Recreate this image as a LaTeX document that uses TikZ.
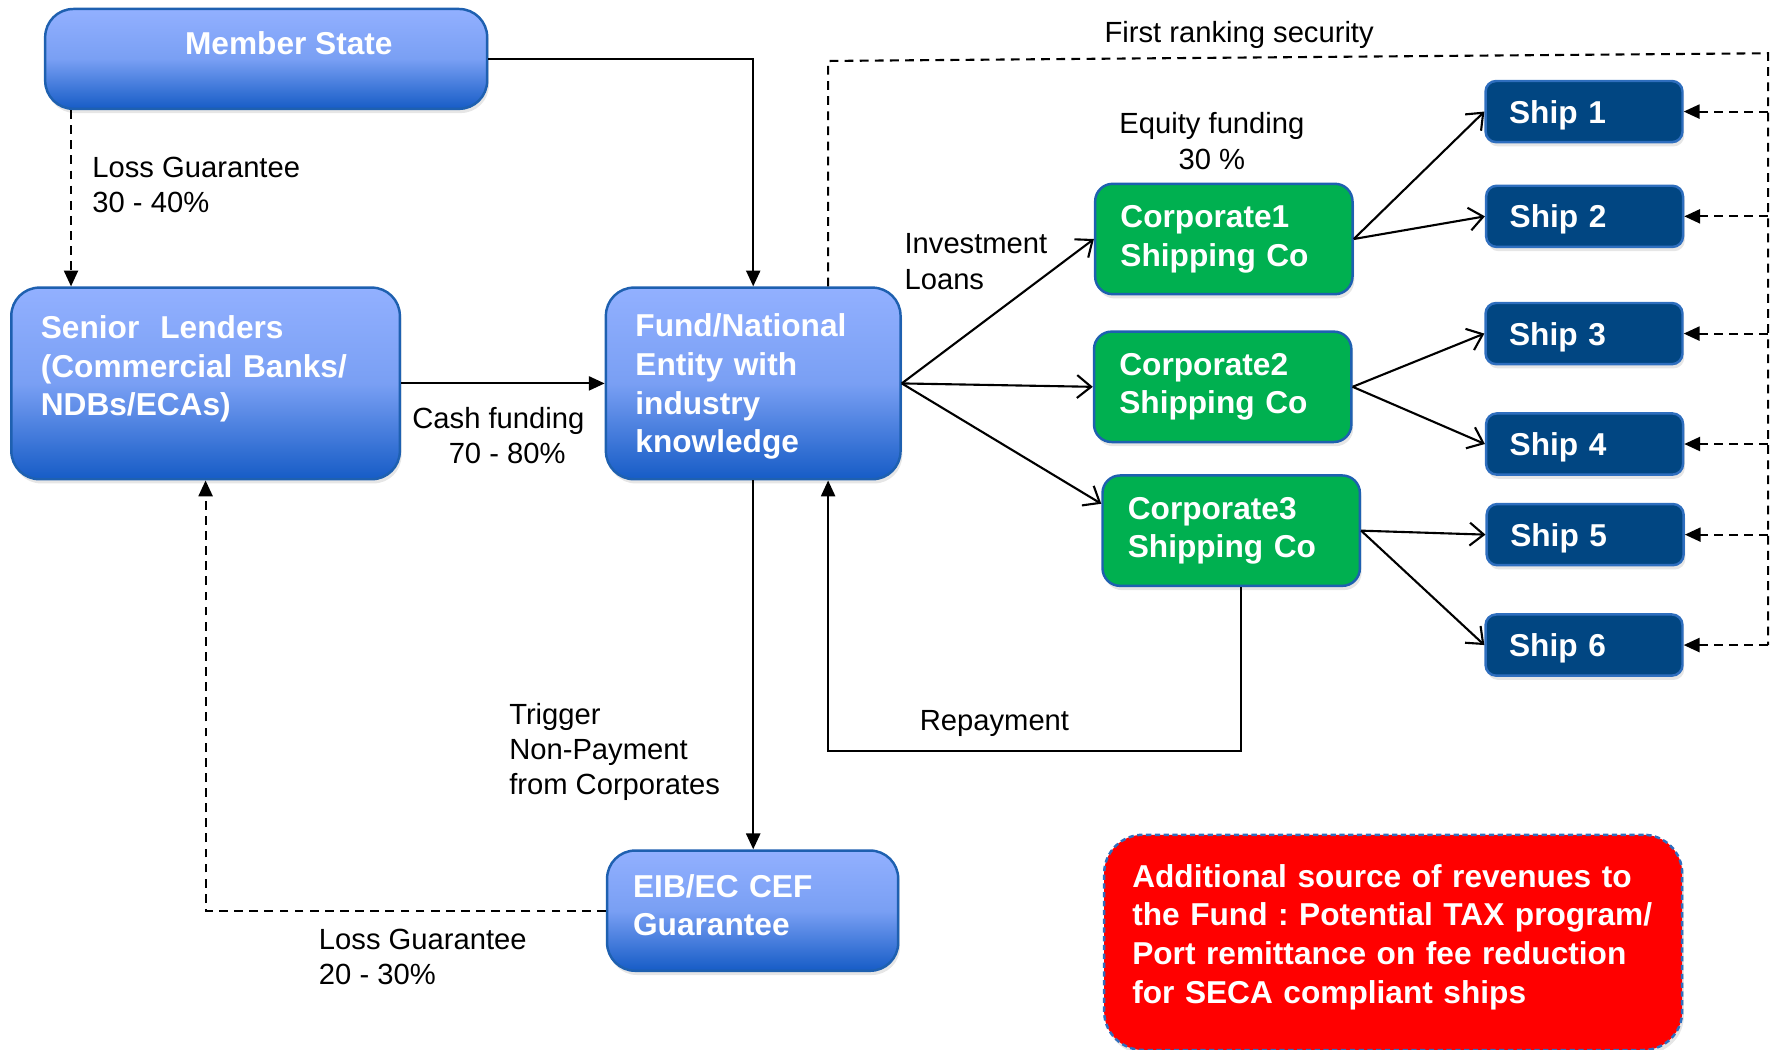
\documentclass[tikz,border=0pt]{standalone}
\usepackage{fontspec}
\setmainfont{Liberation Sans}
\usetikzlibrary{arrows.meta,shadows}
\frenchspacing

\definecolor{bluetop}{RGB}{146,176,255}
\definecolor{bluebot}{RGB}{22,92,198}
\definecolor{blueedge}{RGB}{30,96,176}
\definecolor{corpgreen}{RGB}{0,176,80}
\definecolor{shipblue}{RGB}{1,70,130}
\definecolor{shipedge}{RGB}{46,110,190}

\begin{document}
\begin{tikzpicture}[x=0.011327cm, y=-0.011327cm,
		boxtext/.style={text=white, font=\bfseries\fontsize{9}{11}\selectfont, align=left},
		shade/.style={drop shadow={shadow xshift=0.5pt, shadow yshift=-1.2pt, opacity=0.2}},
		bluebox/.style={boxtext, shade, draw=blueedge, line width=0.7pt, rounded corners=8pt,
			top color=bluetop, bottom color=bluebot, middle color=bluetop!80!bluebot},
		corpbox/.style={boxtext, shade, draw=blueedge, line width=0.7pt, fill=corpgreen,
			rounded corners=5pt, minimum width=73.2pt, minimum height=31.4pt,
			text width=58.8pt, inner xsep=7.2pt},
		shipbox/.style={boxtext, shade, draw=shipedge, line width=0.7pt, fill=shipblue,
			rounded corners=3pt, minimum width=56pt, minimum height=17.4pt,
			text width=42.6pt, inner xsep=6.7pt, text depth=0pt},
		lbl/.style={font=\fontsize{8.3}{10}\selectfont, inner sep=0pt, align=left},
		arr/.style={line width=0.6pt, -{Triangle[length=4.5pt,width=4pt]}},
		dasharr/.style={arr, dash pattern=on 2.5pt off 1.8pt},
		dashline/.style={line width=0.6pt, dash pattern=on 2.5pt off 1.8pt},
		openarr/.style={line width=0.6pt, -{Straight Barb[length=4pt,width=6.5pt]}}
	]
	\useasboundingbox (0,0) rectangle (1568,927);

	% Boxes
	\node[bluebox, minimum width=125.7pt, minimum height=28.4pt, text depth=9pt] (member) at (235,52)
		{\hspace*{12.9pt}Member State};
	\node[bluebox, minimum width=110.5pt, minimum height=54.5pt, text width=93.7pt,
		inner xsep=8.4pt, text depth=32pt] (lenders) at (181.5,338.5)
		{Senior~~Lenders\\(Commercial Banks/\\NDBs/ECAs)};
	\node[bluebox, minimum width=83.8pt, minimum height=54.5pt, text width=67pt,
		inner xsep=8.4pt, text depth=33pt] (fund) at (665,338.5)
		{Fund/National\\Entity with\\industry\\knowledge};
	\node[bluebox, minimum width=82.8pt, minimum height=34.2pt, text width=68pt,
		inner xsep=7.4pt, text depth=14.2pt] (eib) at (664.5,804)
		{EIB/EC CEF\\Guarantee};

	\node[corpbox] (corp1) at (1080.5,211) {Corporate1\\Shipping Co};
	\node[corpbox] (corp2) at (1079.5,341.5) {Corporate2\\Shipping Co};
	\node[corpbox] (corp3) at (1087,468.5) {Corporate3\\Shipping Co};

	\node[shipbox] (ship1) at (1398.5,98.5) {Ship 1};
	\node[shipbox] (ship2) at (1399,191) {Ship 2};
	\node[shipbox] (ship3) at (1398.5,294.5) {Ship 3};
	\node[shipbox] (ship4) at (1399,392) {Ship 4};
	\node[shipbox] (ship5) at (1399.5,472) {Ship 5};
	\node[shipbox] (ship6) at (1398.5,569.5) {Ship 6};

	\node[boxtext, shade, fill=red, draw=shipedge, line width=0.7pt, dash pattern=on 1.5pt off 1pt,
		rounded corners=11pt, minimum width=164.4pt, minimum height=61.2pt, text width=148.4pt,
		inner xsep=8pt, text depth=38pt] (extra) at (1230,832)
		{Additional source of revenues to\\the Fund : Potential TAX program/\\Port remittance on fee reduction\\for SECA compliant ships};

	% Arrows
	\draw[arr] (member.east) -| (fund.north);
	\draw[dasharr] ([xshift=7.7pt]member.south west) coordinate (lgtop) -- (lgtop |- lenders.north);
	\draw[arr] (lenders.east) -- (fund.west);
	\draw[arr] (fund.south) -- (fund.south |- eib.north);
	\draw[dasharr] (eib.west) -| (lenders.south);
	\draw[arr] ([xshift=2.9pt]corp3.south) -- ++(0,145) -| ([xshift=21.3pt]fund.south);

	\draw[openarr] (fund.east) -- (corp1.west);
	\draw[openarr] (fund.east) -- (corp2.west);
	\draw[openarr] (fund.east) -- ([yshift=-8.4pt]corp3.north west);
	\draw[openarr] (corp1.east) -- (ship1.west);
	\draw[openarr] (corp1.east) -- (ship2.west);
	\draw[openarr] (corp2.east) -- (ship3.west);
	\draw[openarr] (corp2.east) -- (ship4.west);
	\draw[openarr] (corp3.east) -- (ship5.west);
	\draw[openarr] (corp3.east) -- (ship6.west);

	% First ranking security
	\coordinate (secR) at (1561,47);
	\draw[dashline] ([xshift=21.3pt]fund.north) -- ++(0,-199) -- (secR) -- (secR |- ship6.east);
	\foreach \s in {1,...,6}
		\draw[dasharr] (secR |- ship\s.east) -- (ship\s.east);

	% Labels
	\node[lbl, anchor=west] (lossA) at (81,163.5) {Loss Guarantee\\30 - 40\%};
	\node[lbl, align=center] (cash) at (440,384.5) {Cash funding\\\hspace*{5pt}70 - 80\%};
	\node[lbl, anchor=west] (trigger) at (449,664) {Trigger\\Non-Payment\\from Corporates};
	\node[lbl, anchor=west] (lossB) at (281,844.5) {Loss Guarantee\\20 - 30\%};
	\node[lbl, anchor=west] (invest) at (798,231) {Investment\\Loans};
	\node[lbl, align=center] (equity) at (1070,124.5) {Equity funding\\30 \%};
	\node[lbl] (first) at (1094,31) {First ranking security};
	\node[lbl] (repay) at (878,639) {Repayment};
\end{tikzpicture}
\end{document}
